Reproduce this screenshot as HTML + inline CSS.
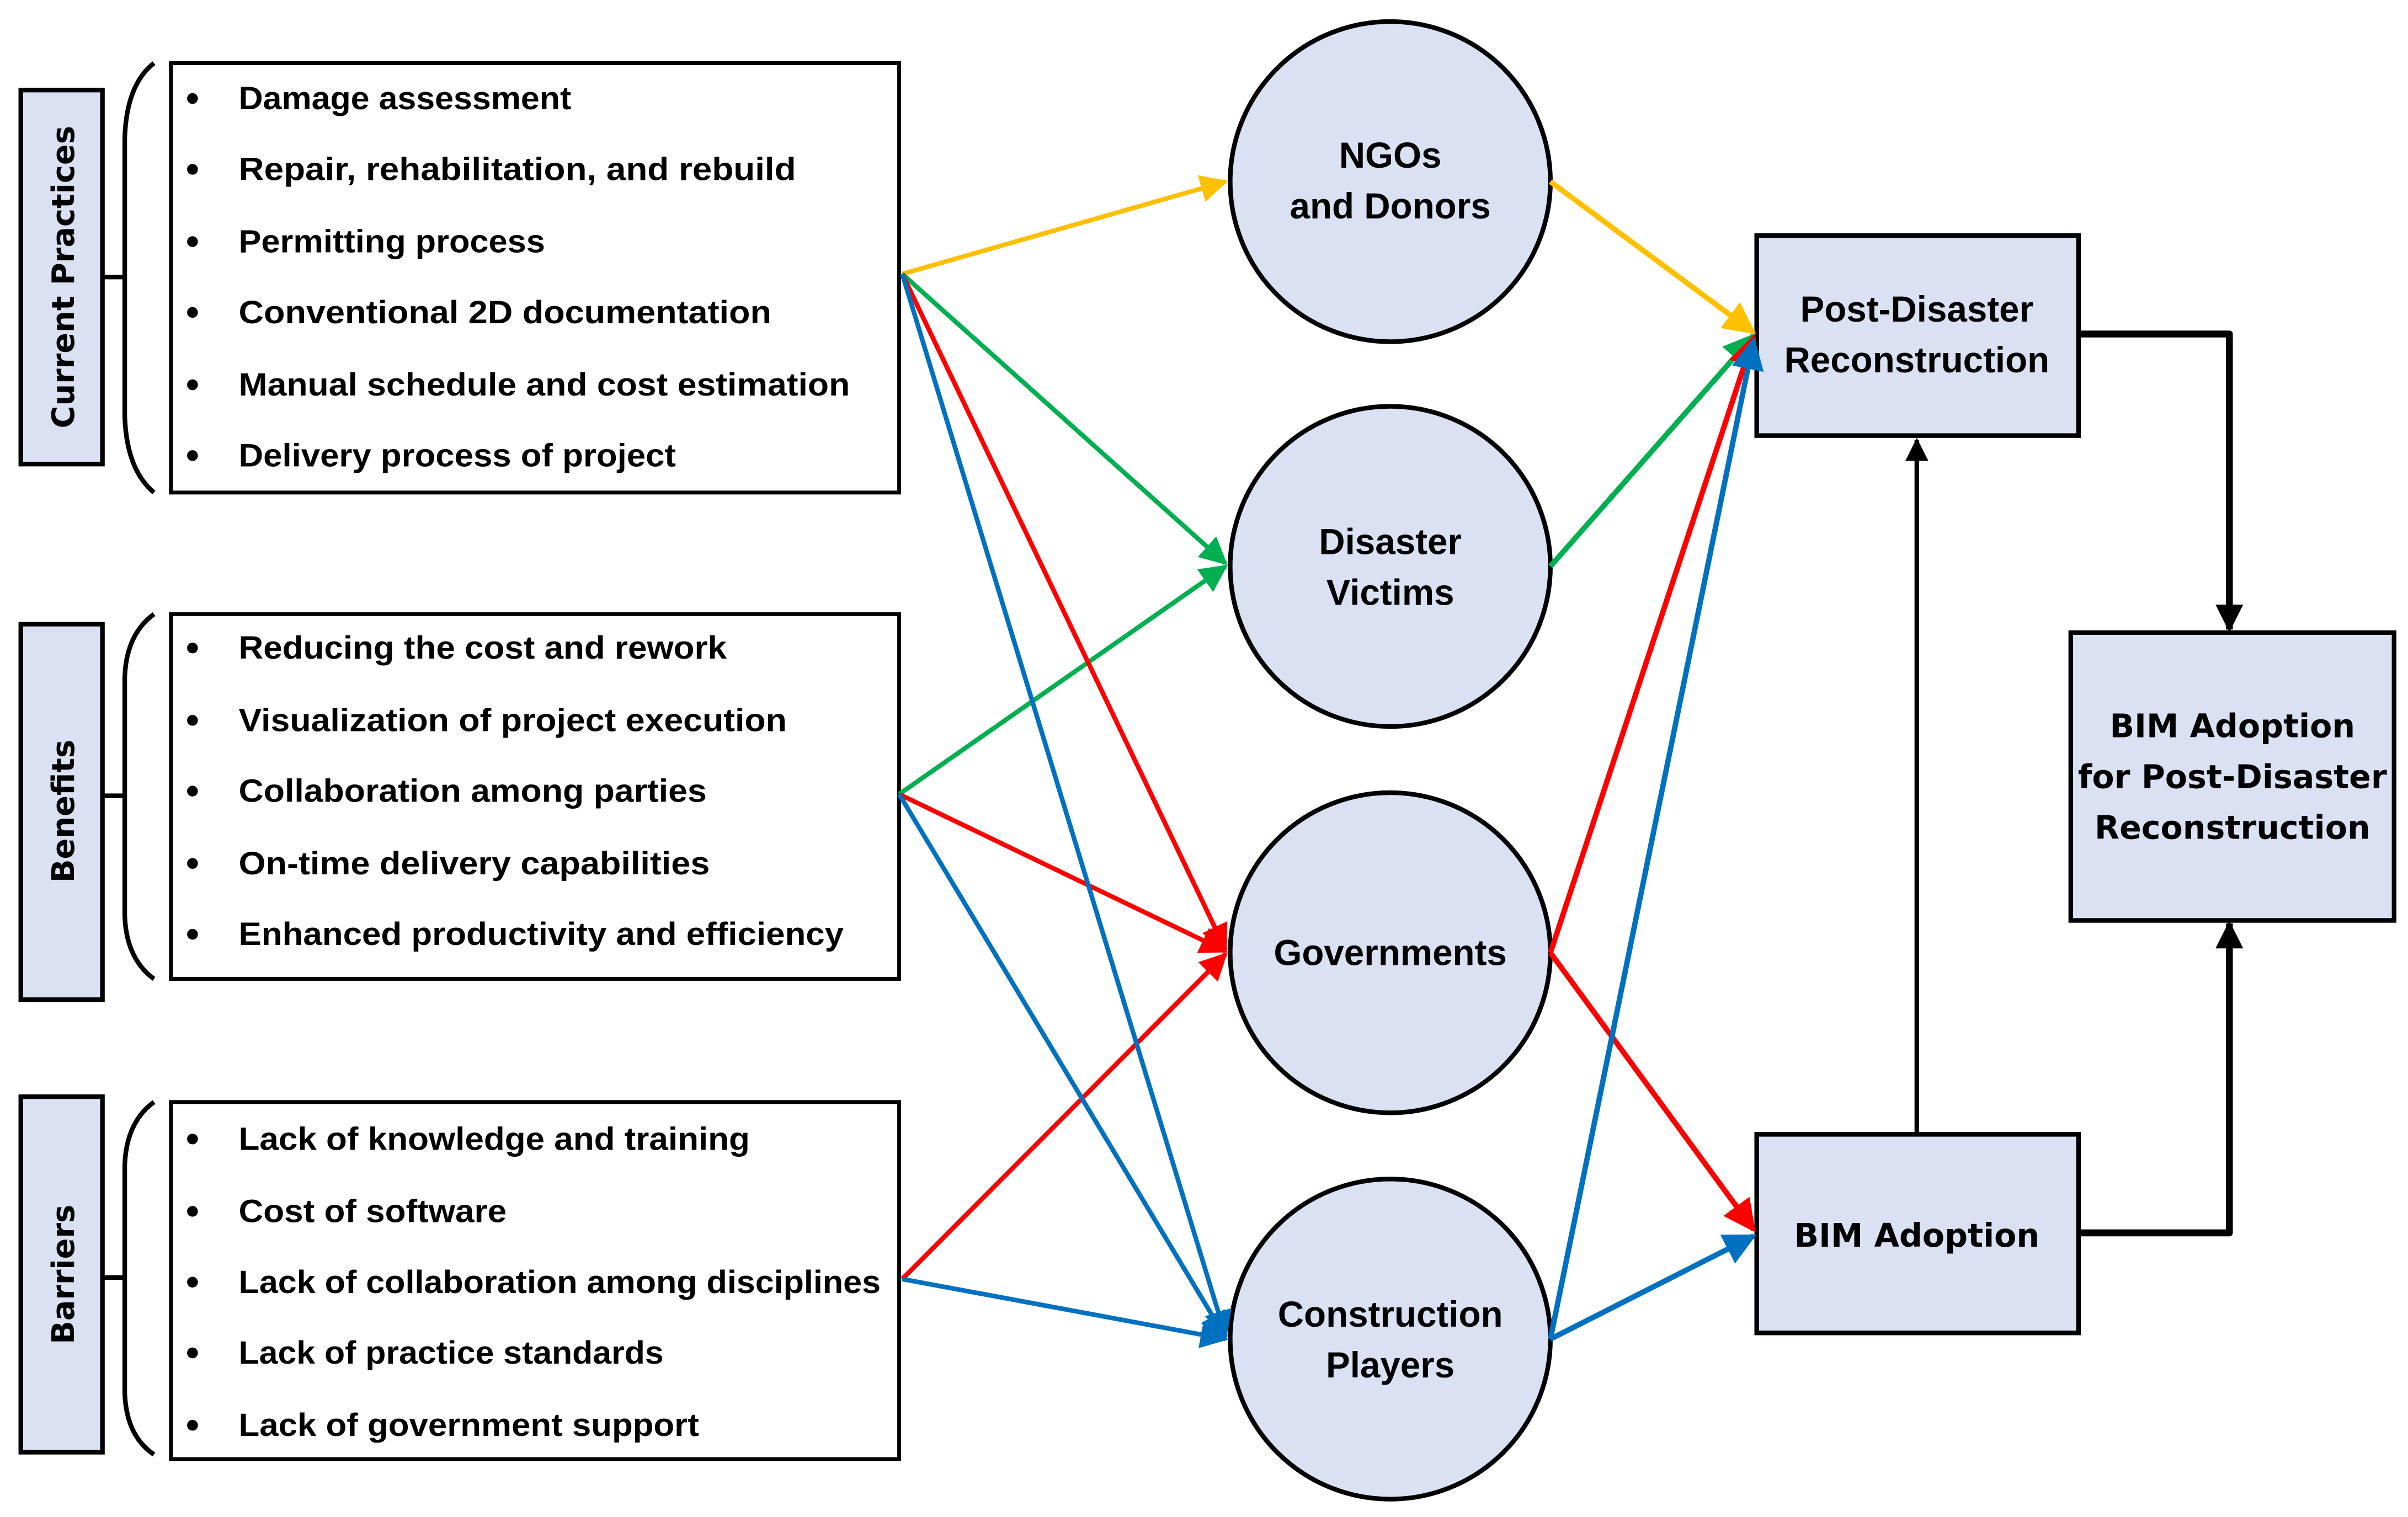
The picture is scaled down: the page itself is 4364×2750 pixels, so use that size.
<!DOCTYPE html>
<html><head><meta charset="utf-8"><style>html,body{margin:0;padding:0;background:#fff}svg{display:block}</style></head>
<body>
<svg xmlns="http://www.w3.org/2000/svg" width="4364" height="2750" viewBox="0 0 1564 985.6">
<defs>
<marker id="my" viewBox="0 0 10 10" refX="9" refY="5" markerWidth="6" markerHeight="6" markerUnits="strokeWidth" orient="auto"><path d="M0,0 L10,5 L0,10 z" fill="#ffc000"/></marker>
<marker id="mg" viewBox="0 0 10 10" refX="9" refY="5" markerWidth="6" markerHeight="6" markerUnits="strokeWidth" orient="auto"><path d="M0,0 L10,5 L0,10 z" fill="#00b050"/></marker>
<marker id="mr" viewBox="0 0 10 10" refX="9" refY="5" markerWidth="6" markerHeight="6" markerUnits="strokeWidth" orient="auto"><path d="M0,0 L10,5 L0,10 z" fill="#ff0000"/></marker>
<marker id="mb" viewBox="0 0 10 10" refX="9" refY="5" markerWidth="6" markerHeight="6" markerUnits="strokeWidth" orient="auto"><path d="M0,0 L10,5 L0,10 z" fill="#0070c0"/></marker>
<marker id="mk" viewBox="0 0 10 10" refX="9" refY="5" markerWidth="4" markerHeight="4" markerUnits="strokeWidth" orient="auto"><path d="M0,0 L10,5 L0,10 z" fill="#000"/></marker>
<marker id="mk2" viewBox="0 0 10 10" refX="9" refY="5" markerWidth="5" markerHeight="5" markerUnits="strokeWidth" orient="auto"><path d="M0,0 L10,5 L0,10 z" fill="#000"/></marker>
</defs>
<g fill="#dae1f2" stroke="#000" stroke-width="3">
<rect x="13.5" y="58.5" width="53" height="243"/>
<rect x="13.5" y="405.5" width="53" height="244"/>
<rect x="13.5" y="712.5" width="53" height="231"/>
</g>
<g fill="#fff" stroke="#000" stroke-width="2.5">
<rect x="111" y="41" width="473" height="279"/>
<rect x="111" y="399" width="473" height="237"/>
<rect x="111" y="716" width="473" height="232"/>
</g>
<g fill="none" stroke="#000" stroke-width="3">
<path d="M100,41 Q82,55 81,90 L81,270 Q82,305 100,320"/>
<path d="M67,180 H81"/>
<path d="M100,399 Q82,412 81,440 L81,595 Q82,623 100,636"/>
<path d="M67,517 H81"/>
<path d="M100,716 Q82,729 81,757 L81,905 Q82,933 100,945"/>
<path d="M67,830 H81"/>
</g>
<g font-family="'DejaVu Sans',sans-serif" font-weight="bold" font-size="20" text-anchor="middle" fill="#000">
<text transform="translate(48,180) rotate(-90)">Current Practices</text>
<text transform="translate(48,527) rotate(-90)">Benefits</text>
<text transform="translate(48,828) rotate(-90)">Barriers</text>
</g>
<g font-family="'Liberation Sans',sans-serif" font-weight="bold" font-size="21" fill="#000">
<g>
<circle cx="125" cy="64" r="3.5"/><circle cx="125" cy="110" r="3.5"/><circle cx="125" cy="157" r="3.5"/><circle cx="125" cy="203" r="3.5"/><circle cx="125" cy="250" r="3.5"/><circle cx="125" cy="296" r="3.5"/>
<circle cx="125" cy="421" r="3.5"/><circle cx="125" cy="468" r="3.5"/><circle cx="125" cy="514" r="3.5"/><circle cx="125" cy="561" r="3.5"/><circle cx="125" cy="607" r="3.5"/>
<circle cx="125" cy="740" r="3.5"/><circle cx="125" cy="787" r="3.5"/><circle cx="125" cy="833" r="3.5"/><circle cx="125" cy="879" r="3.5"/><circle cx="125" cy="926" r="3.5"/>
</g>
<text x="155" y="71" textLength="216" lengthAdjust="spacingAndGlyphs">Damage assessment</text>
<text x="155" y="117" textLength="362" lengthAdjust="spacingAndGlyphs">Repair, rehabilitation, and rebuild</text>
<text x="155" y="164" textLength="199" lengthAdjust="spacingAndGlyphs">Permitting process</text>
<text x="155" y="210" textLength="346" lengthAdjust="spacingAndGlyphs">Conventional 2D documentation</text>
<text x="155" y="257" textLength="397" lengthAdjust="spacingAndGlyphs">Manual schedule and cost estimation</text>
<text x="155" y="303" textLength="284" lengthAdjust="spacingAndGlyphs">Delivery process of project</text>
<text x="155" y="428" textLength="317" lengthAdjust="spacingAndGlyphs">Reducing the cost and rework</text>
<text x="155" y="475" textLength="356" lengthAdjust="spacingAndGlyphs">Visualization of project execution</text>
<text x="155" y="521" textLength="304" lengthAdjust="spacingAndGlyphs">Collaboration among parties</text>
<text x="155" y="568" textLength="306" lengthAdjust="spacingAndGlyphs">On-time delivery capabilities</text>
<text x="155" y="614" textLength="393" lengthAdjust="spacingAndGlyphs">Enhanced productivity and efficiency</text>
<text x="155" y="747" textLength="332" lengthAdjust="spacingAndGlyphs">Lack of knowledge and training</text>
<text x="155" y="794" textLength="174" lengthAdjust="spacingAndGlyphs">Cost of software</text>
<text x="155" y="840" textLength="417" lengthAdjust="spacingAndGlyphs">Lack of collaboration among disciplines</text>
<text x="155" y="886" textLength="276" lengthAdjust="spacingAndGlyphs">Lack of practice standards</text>
<text x="155" y="933" textLength="299" lengthAdjust="spacingAndGlyphs">Lack of government support</text>
</g>
<g fill="#dae1f2" stroke="#000" stroke-width="3">
<ellipse cx="903" cy="118" rx="104" ry="104"/>
<ellipse cx="903" cy="368" rx="104" ry="104"/>
<ellipse cx="903" cy="619" rx="104" ry="104"/>
<ellipse cx="903" cy="870" rx="104" ry="104"/>
<rect x="1141" y="153" width="209" height="130"/>
<rect x="1141" y="737" width="209" height="129"/>
<rect x="1345" y="411" width="210" height="187"/>
</g>
<g font-family="'Liberation Sans',sans-serif" font-weight="bold" font-size="23.5" text-anchor="middle" fill="#000">
<text x="903" y="109">NGOs</text>
<text x="903" y="142">and Donors</text>
<text x="903" y="360">Disaster</text>
<text x="903" y="393">Victims</text>
<text x="903" y="627">Governments</text>
<text x="903" y="862">Construction</text>
<text x="903" y="895">Players</text>
<text x="1245" y="209">Post-Disaster</text>
<text x="1245" y="242">Reconstruction</text>
</g>
<g font-family="'DejaVu Sans',sans-serif" font-weight="bold" font-size="21" text-anchor="middle" fill="#000">
<text x="1245" y="810">BIM Adoption</text>
<text x="1450" y="479">BIM Adoption</text>
<text x="1450" y="512">for Post-Disaster</text>
<text x="1450" y="545">Reconstruction</text>
</g>
<g fill="none" stroke-width="3">
<line x1="586" y1="178" x2="796" y2="118" stroke="#ffc000" marker-end="url(#my)"/>
<line x1="586" y1="178" x2="796" y2="366" stroke="#00b050" marker-end="url(#mg)"/>
<line x1="584" y1="516" x2="796" y2="368" stroke="#00b050" marker-end="url(#mg)"/>
<line x1="586" y1="178" x2="796" y2="617" stroke="#ff0000" marker-end="url(#mr)"/>
<line x1="584" y1="516" x2="796" y2="618" stroke="#ff0000" marker-end="url(#mr)"/>
<line x1="586" y1="831" x2="796" y2="620" stroke="#ff0000" marker-end="url(#mr)"/>
<line x1="586" y1="178" x2="796" y2="868" stroke="#0070c0" marker-end="url(#mb)"/>
<line x1="584" y1="516" x2="796" y2="869" stroke="#0070c0" marker-end="url(#mb)"/>
<line x1="586" y1="831" x2="796" y2="870" stroke="#0070c0" marker-end="url(#mb)"/>
</g>
<g fill="none" stroke-width="3.5">
<line x1="1007" y1="118" x2="1139" y2="216" stroke="#ffc000" marker-end="url(#my)"/>
<line x1="1007" y1="368" x2="1139" y2="218" stroke="#00b050" marker-end="url(#mg)"/>
<line x1="1007" y1="619" x2="1139" y2="219" stroke="#ff0000" marker-end="url(#mr)"/>
<line x1="1007" y1="619" x2="1139" y2="799" stroke="#ff0000" marker-end="url(#mr)"/>
<line x1="1007" y1="870" x2="1139" y2="221" stroke="#0070c0" marker-end="url(#mb)"/>
<line x1="1007" y1="870" x2="1139" y2="803" stroke="#0070c0" marker-end="url(#mb)"/>
</g>
<g fill="none" stroke="#000" stroke-width="4.5" stroke-linejoin="round">
<path d="M1350,217 H1448 V409" marker-end="url(#mk)"/>
<path d="M1350,801 H1448 V600" marker-end="url(#mk)"/>
</g>
<path d="M1245,737 V286" stroke="#000" stroke-width="3" fill="none" marker-end="url(#mk2)"/>
</svg>
</body></html>
